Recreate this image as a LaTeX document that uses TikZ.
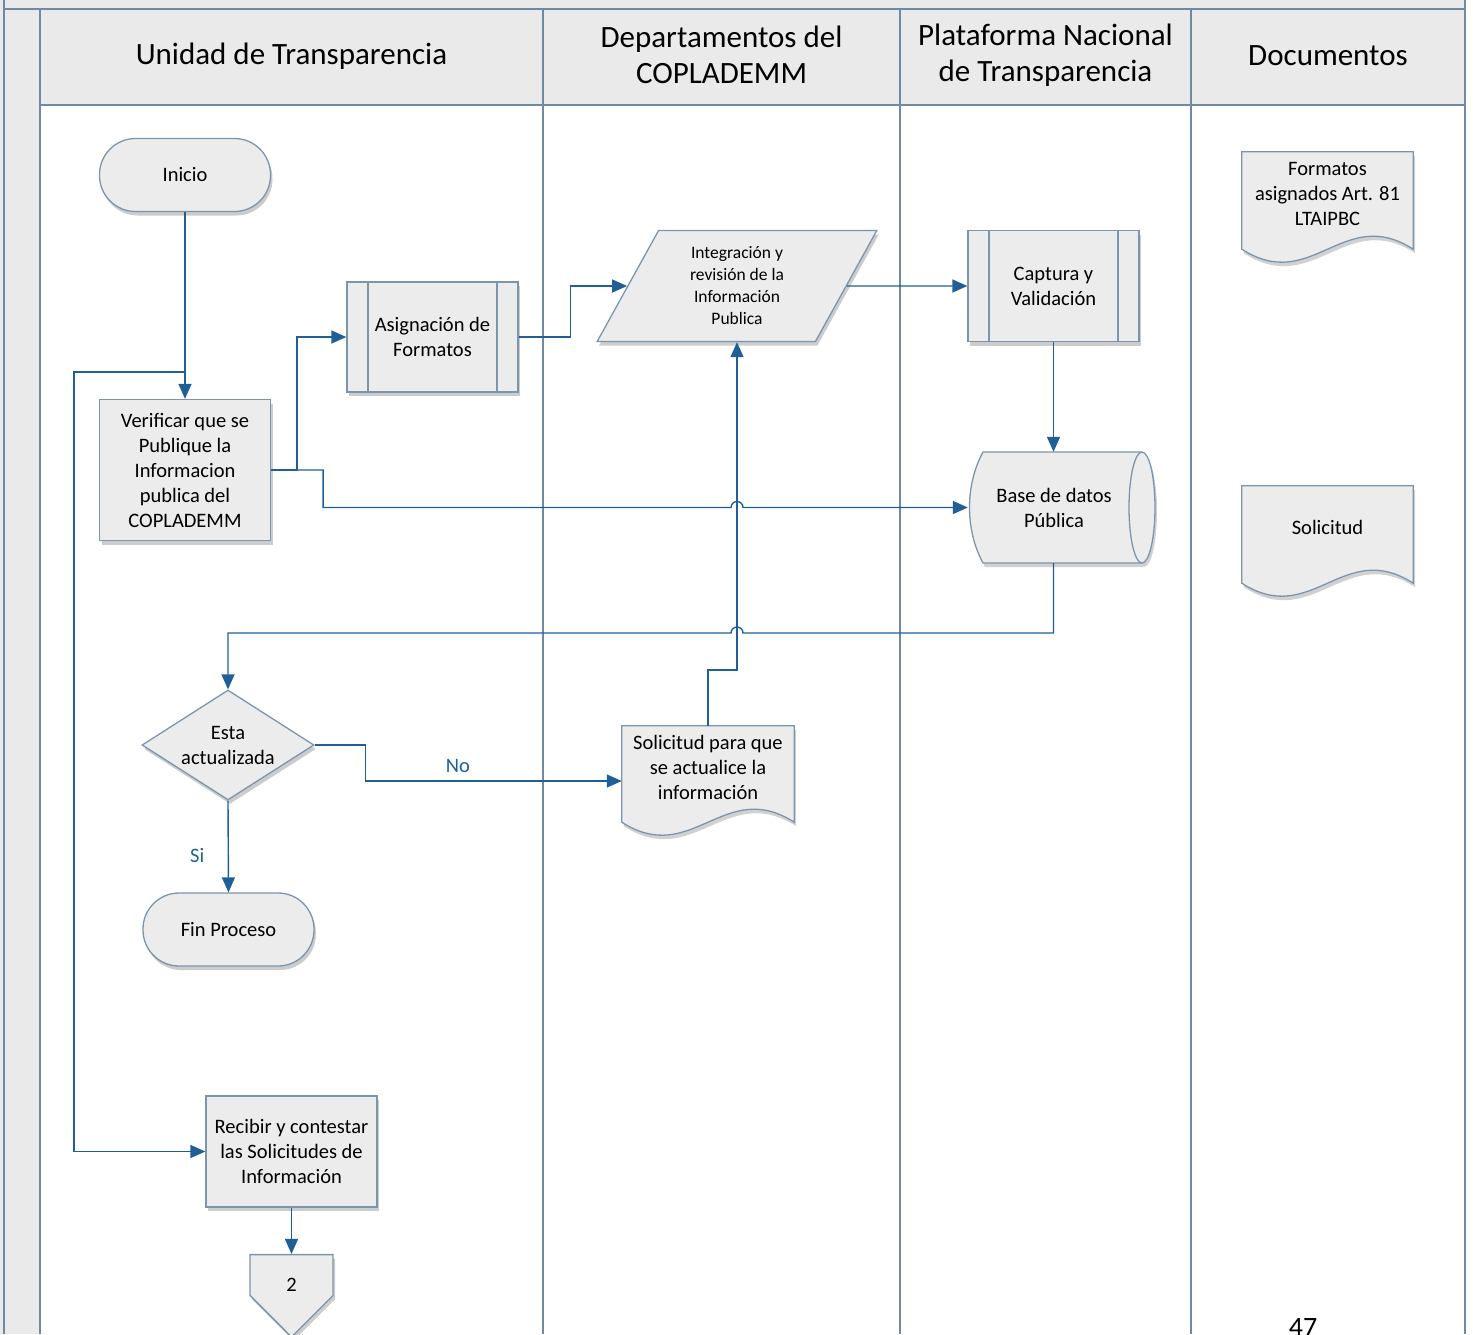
\documentclass[tikz,border=0pt]{standalone}
\usepackage{fontspec}
\setmainfont{Carlito}
\usepackage{tikz}
\usetikzlibrary{shapes,positioning,calc,shapes.geometric,shapes.symbols}
\usetikzlibrary{shadows,backgrounds,arrows.meta}
\definecolor{lanecol}{HTML}{6F88A3}
\definecolor{boxcol}{HTML}{7D95AC}
\definecolor{boxfill}{HTML}{ECECEC}
\definecolor{headfill}{HTML}{EAEAEA}
\definecolor{flowcol}{HTML}{1F5F96}
\tikzstyle{docline}=[draw=boxcol, fill=boxfill, line width=1.3pt]

\newcommand{\docoutline}[1]{%
  \fill[black, opacity=.18, transform canvas={shift={(2pt,-4pt)}}]
    (#1.north west) -- (#1.north east) -- ([yshift=-14pt]#1.south east)
    .. controls +(-70,45) and +(70,-45) .. ([yshift=-14pt]#1.south west) -- cycle;
  \path[docline]
    (#1.north west) -- (#1.north east) -- ([yshift=-14pt]#1.south east)
    .. controls +(-70,45) and +(70,-45) .. ([yshift=-14pt]#1.south west) -- cycle;}

\begin{document}
\begin{tikzpicture}[x=1pt, y=1pt,
lane/.style={draw=lanecol, line width=1.6pt},
head/.style={align=center, font=\fontsize{31}{36}\selectfont},
shadowed/.style={drop shadow={shadow xshift=2pt, shadow yshift=-4pt, opacity=.2, fill=black}},
procbox/.style={rectangle, draw=boxcol, fill=boxfill, line width=1.3pt, align=center, font=\fontsize{20.5}{25}\selectfont, inner sep=2pt, minimum width=171pt, shadowed},
terminal/.style={procbox, rounded corners=36pt, minimum height=73pt},
subproc/.style={procbox, minimum height=110pt, path picture={
  \draw[boxcol, line width=1.3pt] ([xshift=21pt]path picture bounding box.north west) -- ([xshift=21pt]path picture bounding box.south west);
  \draw[boxcol, line width=1.3pt] ([xshift=-21pt]path picture bounding box.north east) -- ([xshift=-21pt]path picture bounding box.south east);}},
iobox/.style={procbox, trapezium, trapezium left angle=65, trapezium right angle=115, trapezium stretches=true, minimum width=280pt, minimum height=111pt, font=\fontsize{17.5}{22}\selectfont},
decision/.style={procbox, diamond, aspect=1.56, inner sep=0pt, minimum width=172pt, minimum height=110pt},
docbox/.style={rectangle, align=center, font=\fontsize{20.5}{25}\selectfont, inner sep=2pt, minimum width=171pt, minimum height=83pt},
offpage/.style={procbox, signal, signal to=south, signal pointer angle=90, minimum width=83pt, minimum height=46pt, inner sep=0pt, text height=33pt, text depth=0pt},
flow/.style={draw=flowcol, line width=1.4pt, -{Triangle[length=15pt, width=13pt]}},
flowlabel/.style={text=flowcol, font=\fontsize{20.5}{25}\selectfont},
]
\useasboundingbox (0,0) rectangle (1473,-1334);

% pool and lanes
\fill[headfill] (0,0) rectangle (1465,-9);
\fill[headfill] (0,0) rectangle (40,-1334);
\fill[headfill] (40,-9) rectangle (1465,-105);
\draw[lane] (4,0) -- (4,-1334);
\draw[lane] (40,-9) -- (40,-1334);
\draw[lane] (4,-9) -- (1465,-9);
\draw[lane] (40,-105) -- (1465,-105);
\draw[lane] (1465,0) -- (1465,-1334);
\foreach \x in {543,900,1191} \draw[lane] (\x,-9) -- (\x,-1334);

\node[head] (h1) at (291.5,-56) {Unidad de Transparencia};
\node[head] (h2) at (721.5,-55) {Departamentos del\\COPLADEMM};
\node[head] (h3) at (1045.5,-55) {Plataforma Nacional\\de Transparencia};
\node[head] (h4) at (1328,-56) {Documentos};

% steps
\node[terminal] (inicio) at (185,-175) {Inicio};
\node[procbox, minimum height=141pt] (verif) at (185,-470) {Verificar que se\\Publique la\\Informacion\\publica del\\COPLADEMM};
\node[subproc] (asig) at (432.5,-337) {Asignación de\\Formatos};
\node[iobox] (integ) at (737,-286) {Integración y\\revisión de la\\Información\\Publica};
\node[subproc, minimum height=111pt] (captura) at (1053.5,-286) {Captura y\\Validación};
\node[docbox, minimum width=172pt, minimum height=111pt] (bd) at (1054,-507.5) {Base de datos\\Pública};
\node[decision] (esta) at (228,-745) {Esta\\actualizada};
\node[terminal] (fin) at (228.5,-929.5) {Fin Proceso};
\node[docbox, minimum width=172pt, minimum height=82pt] (sol) at (708,-767) {Solicitud para que\\se actualice la\\información};
\node[procbox, minimum height=111pt] (recibir) at (291.5,-1151.5) {Recibir y contestar\\las Solicitudes de\\Información};
\node[offpage] (offp) at (291.5,-1275) {2};

% documents
\node[docbox] (formatos) at (1327.5,-193.5) {Formatos\\asignados Art. 81\\LTAIPBC};
\node[docbox] (solic) at (1327.5,-527.5) {Solicitud};

\node[font=\fontsize{28}{30}\selectfont, anchor=base] (pag) at (1303,-1336) {47};

\begin{scope}[on background layer]
\docoutline{formatos}
\docoutline{solic}
\docoutline{sol}
\fill[black, opacity=.18, transform canvas={shift={(2pt,-4pt)}}] (983,-452) -- (1142,-452) arc[start angle=90, end angle=-90, x radius=13, y radius=55.5] -- (983,-563) .. controls (965,-530) and (965,-485) .. (983,-452) -- cycle;
\path[docline] (983,-452) -- (1142,-452) arc[start angle=90, end angle=-90, x radius=13, y radius=55.5] -- (983,-563) .. controls (965,-530) and (965,-485) .. (983,-452) -- cycle;
\draw[boxcol, line width=1.3pt] (1142,-452) arc[start angle=90, end angle=270, x radius=13, y radius=55.5];
\end{scope}

% connectors
\coordinate (loop) at (74,-372);
\coordinate (bend) at (1053.5,-633);
\draw[flow] (inicio) -- (verif);
\draw[flow] (inicio.south) |- (loop) |- (recibir.west);
\draw[flow] (verif.east) -- ++(26,0) |- (asig.west);
\draw[flow] (verif.east) -- ++(52,0) |- ([xshift=-6pt]integ.south |- bd.west) arc[start angle=180, end angle=0, radius=6pt] -- (bd.west);
\draw[flow] (asig.east) -- ++(52,0) |- (integ.west);
\draw[flow] (integ.east) -- (captura.west);
\draw[flow] (captura.south) -- (captura.south |- bd.north);
\draw[flow] (captura.south |- bd.south) -- (bend) -- ([xshift=6pt]integ.south |- bend) arc[start angle=0, end angle=180, radius=6pt] -| (esta.north);
\draw[flow] (esta.east) -- ++(51,0) |- ([yshift=-14pt]sol.west) node[flowlabel, pos=0.68, above=4pt] {No};
\draw[flow] (esta.south) -- (fin.north) node[flowlabel, pos=0.6, left=20pt] {Si};
\draw[flow] (sol.north) -- ++(0,56) -| (integ.south);
\draw[flow] (recibir.south) -- (offp.north);
\end{tikzpicture}
\end{document}
